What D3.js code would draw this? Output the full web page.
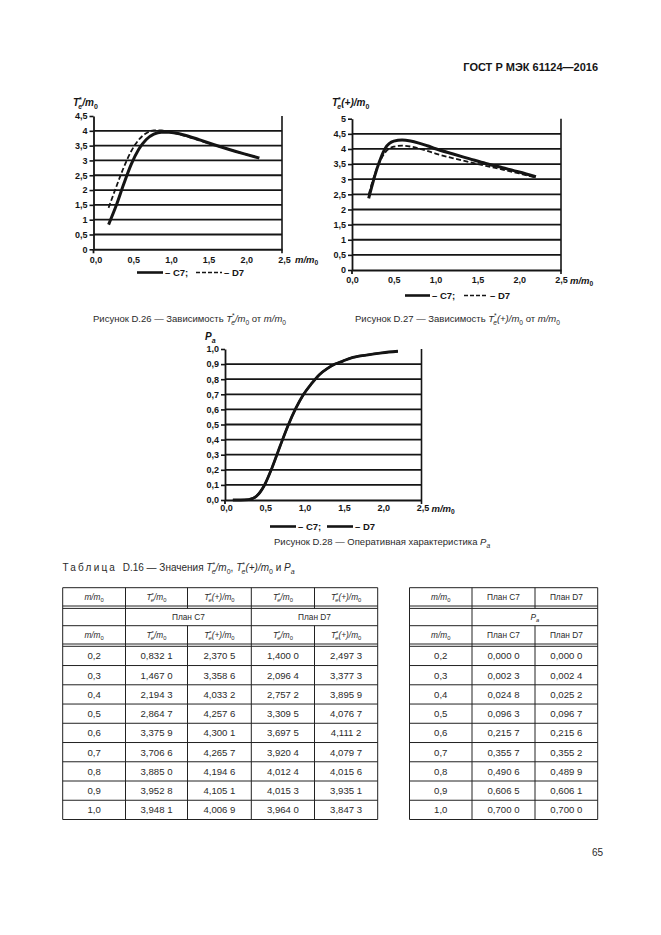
<!DOCTYPE html>
<html><head><meta charset="utf-8">
<script src="https://cdn.jsdelivr.net/npm/d3@7"></script>
<style>body{margin:0;background:#fff}svg{display:block}text{white-space:pre}</style>
</head><body><svg id="c" width="661" height="935"></svg>
<script>
// ---------- data ----------
const mTable = [0.2,0.3,0.4,0.5,0.6,0.7,0.8,0.9,1.0];
const c7Te  = [0.8321,1.4670,2.1943,2.8647,3.3759,3.7066,3.8850,3.9528,3.9481];
const c7Tp  = [2.3705,3.3586,4.0332,4.2576,4.3001,4.2657,4.1946,4.1051,4.0069];
const d7Te  = [1.4000,2.0964,2.7572,3.3095,3.6975,3.9204,4.0124,4.0153,3.9640];
const d7Tp  = [2.4973,3.3773,3.8959,4.0767,4.1112,4.0797,4.0156,3.9351,3.8473];
const c7Pa  = [0.0000,0.0023,0.0248,0.0963,0.2157,0.3557,0.4906,0.6065,0.7000];
const d7Pa  = [0.0000,0.0024,0.0252,0.0967,0.2156,0.3552,0.4899,0.6061,0.7000];
const mExtra     = [1.2,1.4,1.6,1.8,2.0,2.2];
const c7TeExtra  = [3.86,3.70,3.53,3.37,3.22,3.08];
const d7TeExtra  = [3.84,3.68,3.52,3.37,3.22,3.08];
const c7TpExtra  = [3.84,3.68,3.52,3.38,3.24,3.08];
const d7TpExtra  = [3.70,3.57,3.44,3.32,3.19,3.05];
const mPaStart   = [0.1];
const paStart    = [0.0];
const mPaExtra   = [1.1,1.2,1.3,1.4,1.5,1.6,1.8,2.0,2.2];
const c7PaExtra  = [0.77,0.83,0.87,0.90,0.92,0.94,0.96,0.975,0.985];
const d7PaExtra  = [0.77,0.83,0.87,0.90,0.92,0.94,0.96,0.975,0.985];
const xTicks = [0,0.5,1.0,1.5,2.0,2.5];
const yTicksT = [0,0.5,1,1.5,2,2.5,3,3.5,4,4.5];
const yTicksTp = [0,0.5,1,1.5,2,2.5,3,3.5,4,4.5,5];
const yTicksPa = [0,0.1,0.2,0.3,0.4,0.5,0.6,0.7,0.8,0.9,1.0];

const svg = d3.select('#c');
const INK = '#151515';
const FONT = '"Liberation Sans", Arial, sans-serif';

function zip(xs, ys){ return xs.map((x,i)=>[x, ys[i]]); }

// rich text helper
function rich(g, x, y, parts, opts){
  const fs = opts.size;
  const t = g.append('text').attr('x', x).attr('y', y)
    .attr('font-family', FONT).attr('font-size', fs)
    .attr('fill', opts.fill || INK)
    .attr('font-weight', opts.weight || 'normal')
    .attr('text-anchor', opts.anchor || 'start');
  let cur = 0;
  parts.forEach(p => {
    const [txt, kind, dx] = p;
    let target = 0, size = fs;
    if (kind && kind.includes('sup')) { target = -fs*0.38; size = fs*0.7; }
    if (kind && kind.includes('sub')) { target = fs*0.28; size = fs*0.7; }
    const ts = t.append('tspan').text(txt).attr('font-size', size);
    if (target - cur !== 0) ts.attr('dy', target - cur);
    if (dx) ts.attr('dx', dx);
    if (kind && kind.includes('i')) ts.attr('font-style', 'italic');
    if (kind && kind.includes('ls')) ts.attr('letter-spacing', 2.2);
    cur = target;
  });
  return t;
}

function fmtComma(v, d){ return v.toFixed(d).replace('.', ','); }

function drawChart(cfg){
  const g = svg.append('g');
  const x = d3.scaleLinear().domain([0,2.5]).range([cfg.x0, cfg.x1]);
  const y = d3.scaleLinear().domain([0,cfg.ymax]).range([cfg.y0, cfg.y1]);
  // grid lines
  g.selectAll('line.grid').data(cfg.yTicks.filter(v => v > 0 && v < cfg.ymax))
    .join('line').attr('x1', cfg.x0).attr('x2', cfg.x1)
    .attr('y1', d => y(d)).attr('y2', d => y(d))
    .attr('stroke', INK).attr('stroke-width', 1.8);
  // right border
  g.append('line').attr('x1', cfg.x1).attr('x2', cfg.x1)
    .attr('y1', y(cfg.ymax)).attr('y2', cfg.y0 + 4)
    .attr('stroke', INK).attr('stroke-width', 1.6);
  // y axis
  const ya = g.append('g').attr('transform', `translate(${cfg.x0},0)`)
    .call(d3.axisLeft(y).tickValues(cfg.yTicks).tickSize(4).tickSizeOuter(0)
      .tickPadding(2).tickFormat(cfg.yFmt));
  ya.select('.domain').attr('stroke', INK).attr('stroke-width', 1.8);
  ya.selectAll('.tick line').attr('stroke', INK).attr('stroke-width', 1.6);
  ya.selectAll('.tick text').attr('font-family', FONT).attr('font-weight', 'bold')
    .attr('font-size', 9).attr('fill', INK);
  // y axis extends below
  g.append('line').attr('x1', cfg.x0).attr('x2', cfg.x0).attr('y1', cfg.y0).attr('y2', cfg.y0 + 4)
    .attr('stroke', INK).attr('stroke-width', 1.8);
  // x axis
  const xa = g.append('g').attr('transform', `translate(0,${cfg.y0})`)
    .call(d3.axisBottom(x).tickValues(xTicks).tickSize(0).tickSizeOuter(0)
      .tickPadding(cfg.xPad).tickFormat(v => fmtComma(v, 1)));
  xa.select('.domain').attr('stroke', INK).attr('stroke-width', 2);
  xa.selectAll('.tick text').attr('font-family', FONT).attr('font-weight', 'bold')
    .attr('font-size', 9).attr('fill', INK).attr('dx', cfg.xdx || 0);
  // x axis title
  rich(g, x(2.5) + cfg.xtOff, cfg.y0 + cfg.xPad + 6.5, [['m/m','i'],['0','sub']],
       {size: 9.5, weight: 'bold'});
  // y axis title
  rich(g, cfg.ytX, cfg.ytY, cfg.ytParts, {size: 10, weight: 'bold'});
  // curves
  const line = d3.line().x(d => x(d[0])).y(d => y(d[1])).curve(d3.curveMonotoneX);
  cfg.series.forEach(s => {
    g.append('path').attr('d', line(s.data)).attr('fill', 'none')
      .attr('stroke', INK).attr('stroke-width', s.w)
      .attr('stroke-dasharray', s.dash || null).attr('stroke-linecap', 'butt');
  });
  // legend
  const L = cfg.legend;
  const lg = g.append('g');
  lg.append('line').attr('x1', L.a[0]).attr('x2', L.a[1]).attr('y1', L.y).attr('y2', L.y)
    .attr('stroke', INK).attr('stroke-width', 2.6);
  lg.append('text').attr('x', L.a[1] + 2).attr('y', L.y + 3.5).text('– C7;')
    .attr('font-family', FONT).attr('font-weight', 'bold').attr('font-size', 9.5).attr('fill', INK);
  lg.append('line').attr('x1', L.b[0]).attr('x2', L.b[1]).attr('y1', L.y).attr('y2', L.y)
    .attr('stroke', INK).attr('stroke-width', L.bDash ? 1.6 : 2.6)
    .attr('stroke-dasharray', L.bDash || null);
  lg.append('text').attr('x', L.b[1] + 2).attr('y', L.y + 3.5).text('– D7')
    .attr('font-family', FONT).attr('font-weight', 'bold').attr('font-size', 9.5).attr('fill', INK);
}

const fmtT = v => Number.isInteger(v) ? String(v) : fmtComma(v, 1);

// Figure D.26
drawChart({
  x0: 93.5, x1: 282, y0: 249.3, y1: 116, ymax: 4.5, yTicks: yTicksT, yFmt: fmtT,
  xPad: 7, xdx: 2, xtOff: 13,
  ytX: 73, ytY: 106,
  ytParts: [['T','i'],['*','sup'],['e','sub i',-3.5],['/m','i'],['0','sub']],
  series: [
    {data: zip(mTable.concat(mExtra), c7Te.concat(c7TeExtra)), w: 3},
    {data: zip(mTable.concat(mExtra), d7Te.concat(d7TeExtra)), w: 1.8, dash: '5,2.5'}
  ],
  legend: {y: 272.5, a: [137, 163], b: [196, 222], bDash: '4,2'}
});

// Figure D.27
drawChart({
  x0: 352, x1: 561, y0: 270, y1: 118.7, ymax: 5, yTicks: yTicksTp, yFmt: fmtT,
  xPad: 7, xdx: 0, xtOff: 9,
  ytX: 332, ytY: 106,
  ytParts: [['T','i'],['*','sup'],['e','sub i',-3.5],['(+)/m','i'],['0','sub']],
  series: [
    {data: zip(mTable.concat(mExtra), c7Tp.concat(c7TpExtra)), w: 3},
    {data: zip(mTable.concat(mExtra), d7Tp.concat(d7TpExtra)), w: 1.8, dash: '5,2.5'}
  ],
  legend: {y: 295.5, a: [405, 430], b: [464, 488], bDash: '4,2'}
});

// Figure D.28
drawChart({
  x0: 225, x1: 421.5, y0: 500, y1: 349, ymax: 1.0, yTicks: yTicksPa, yFmt: v => fmtComma(v, 1),
  xPad: 5, xdx: 1, xtOff: 10,
  ytX: 205, ytY: 340,
  ytParts: [['P','i'],['a','sub i']],
  series: [
    {data: zip(mPaStart.concat(mTable, mPaExtra), paStart.concat(c7Pa, c7PaExtra)), w: 2.8},
    {data: zip(mPaStart.concat(mTable, mPaExtra), paStart.concat(d7Pa, d7PaExtra)), w: 2.2}
  ],
  legend: {y: 526.5, a: [270, 296], b: [327, 353]}
});

// ---------- page texts ----------
const GREY = '#2a2a2a';
svg.append('text').attr('x', 598).attr('y', 71).attr('text-anchor', 'end')
  .attr('font-family', FONT).attr('font-weight', 'bold').attr('font-size', 11)
  .attr('fill', INK).text('ГОСТ Р МЭК 61124—2016');

rich(svg, 93, 322, [['Рисунок D.26 — Зависимость '],['T','i'],['*','sup'],['e','sub i',-3.5],['/m','i'],['0','sub'],[' от '],['m/m','i'],['0','sub']],
  {size: 9.5, fill: GREY});
rich(svg, 355, 322, [['Рисунок D.27 — Зависимость '],['T','i'],['*','sup'],['e','sub i',-3.5],['(+)/m','i'],['0','sub'],[' от '],['m/m','i'],['0','sub']],
  {size: 9.5, fill: GREY});
rich(svg, 274, 545, [['Рисунок D.28 — Оперативная характеристика '],['P','i'],['a','sub i']],
  {size: 9.5, fill: GREY});

rich(svg, 62.5, 571, [['Таблица','ls'],['  D.16 — Значения '],['T','i'],['*','sup'],['e','sub i',-3.5],['/m','i'],['0','sub'],[', '],['T','i'],['*','sup'],['e','sub i',-3.5],['(+)/m','i'],['0','sub'],[' и '],['P','i'],['a','sub i']],
  {size: 10, fill: GREY});

svg.append('text').attr('x', 603).attr('y', 856).attr('text-anchor', 'end')
  .attr('font-family', FONT).attr('font-size', 10).attr('fill', GREY).text('65');

// ---------- table ----------
const leftCols = [62.7,125.5,187.5,251.3,314.5,377.7];
const rightCols = [409.5,472,535,597.7];
const hdr = [587.7, 606.0, 625.7, 644.0];
const dataTop = 646.3, rowH = (819.5 - 646.3) / 9;
const tb = svg.append('g');
const LS = '#222';
function hline(x1, x2, yy, w){ tb.append('line').attr('x1', x1).attr('x2', x2).attr('y1', yy).attr('y2', yy).attr('stroke', LS).attr('stroke-width', w || 1); }
function vline(xx, y1, y2){ tb.append('line').attr('x1', xx).attr('x2', xx).attr('y1', y1).attr('y2', y2).attr('stroke', LS).attr('stroke-width', 1); }
const bottom = dataTop + rowH * 9;
[[leftCols[0], leftCols[5]], [rightCols[0], rightCols[3]]].forEach(([a, b]) => {
  hline(a, b, hdr[0]);
  hline(a, b, hdr[1]); hline(a, b, hdr[1] + 2.4);
  hline(a, b, hdr[2]);
  hline(a, b, hdr[3]); hline(a, b, hdr[3] + 2.3);
  for (let i = 1; i < 9; i++) hline(a, b, dataTop + rowH * i);
  hline(a, b, bottom);
});
// vertical lines
leftCols.forEach((cx, i) => {
  if (i === 2 || i === 4) { vline(cx, hdr[0], hdr[1] + 2.4); vline(cx, hdr[2], bottom); }
  else vline(cx, hdr[0], bottom);
});
rightCols.forEach((cx, i) => {
  if (i === 2) { vline(cx, hdr[0], hdr[1] + 2.4); vline(cx, hdr[2], bottom); }
  else vline(cx, hdr[0], bottom);
});
const mid = (a, b) => (a + b) / 2;
const TeParts = [['T','i'],['*','sup'],['e','sub i',-3],['/m','i'],['0','sub']];
const TpParts = [['T','i'],['*','sup'],['e','sub i',-3],['(+)/m','i'],['0','sub']];
const mmParts = [['m/m','i'],['0','sub']];
const headRowL = [mmParts, TeParts, TpParts, TeParts, TpParts];
const headRowR = [mmParts, [['План C7']], [['План D7']]];
[hdr[0], hdr[2]].forEach((top, k) => {
  const yy = top + 12.3;
  headRowL.forEach((p, i) => rich(tb, mid(leftCols[i], leftCols[i+1]), yy, p, {size: 8.3, anchor: 'middle', fill: GREY}));
  headRowR.forEach((p, i) => rich(tb, mid(rightCols[i], rightCols[i+1]), yy, p, {size: 8.3, anchor: 'middle', fill: GREY}));
});
const y2row = hdr[1] + 2.4 + 11.5;
rich(tb, mid(leftCols[1], leftCols[3]), y2row, [['План C7']], {size: 8.3, anchor: 'middle', fill: GREY});
rich(tb, mid(leftCols[3], leftCols[5]), y2row, [['План D7']], {size: 8.3, anchor: 'middle', fill: GREY});
rich(tb, mid(rightCols[1], rightCols[3]), y2row, [['P','i'],['a','sub i']], {size: 8.3, anchor: 'middle', fill: GREY});

const fmt4 = v => { const s = v.toFixed(4).replace('.', ','); return s.slice(0, -1) + ' ' + s.slice(-1); };
const leftData = [mTable.map(v => fmtComma(v, 1)), c7Te.map(fmt4), c7Tp.map(fmt4), d7Te.map(fmt4), d7Tp.map(fmt4)];
const rightData = [mTable.map(v => fmtComma(v, 1)), c7Pa.map(fmt4), d7Pa.map(fmt4)];
function cells(cols, data){
  data.forEach((col, ci) => {
    tb.selectAll(null).data(col).join('text')
      .attr('x', mid(cols[ci], cols[ci+1]))
      .attr('y', (d, r) => dataTop + rowH * r + rowH / 2 + 3.4)
      .attr('text-anchor', 'middle').attr('font-family', FONT).attr('font-size', 9.6)
      .attr('fill', GREY).text(d => d);
  });
}
cells(leftCols, leftData);
cells(rightCols, rightData);
</script>
</body></html>
